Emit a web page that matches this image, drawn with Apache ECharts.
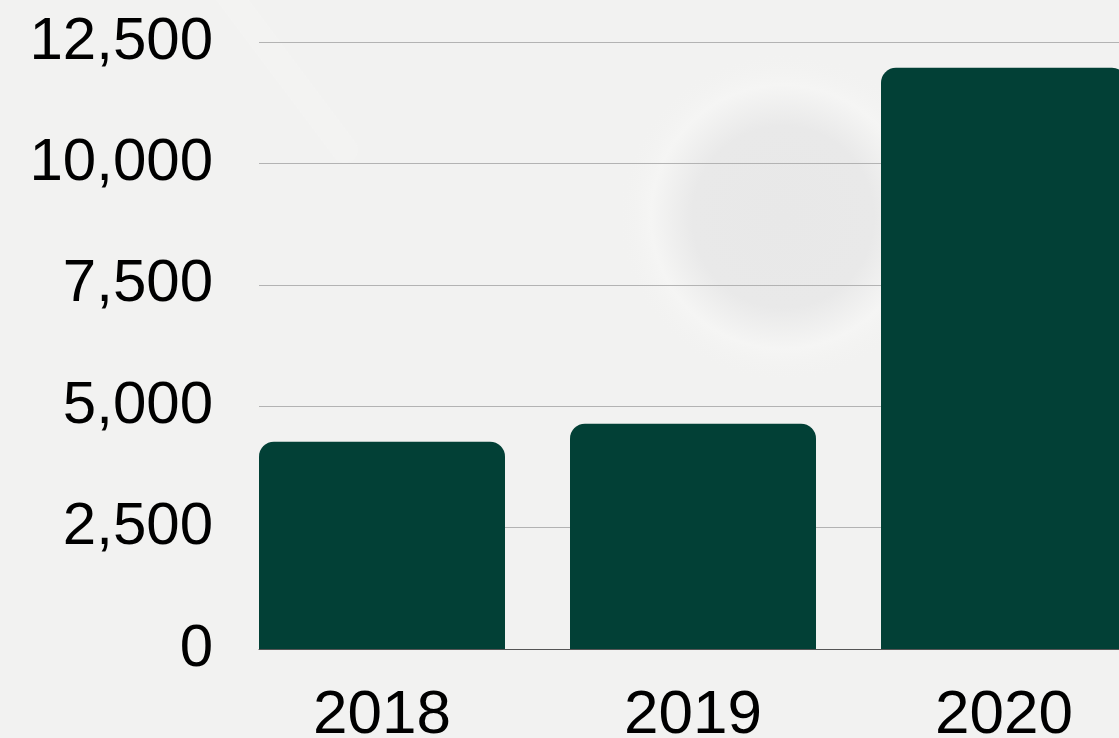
<!DOCTYPE html>
<html>
<head>
<meta charset="utf-8">
<style>
html,body{margin:0;padding:0;background:#f2f2f1;}
#chart{width:1119px;height:738px;}
</style>
<script src="https://cdn.jsdelivr.net/npm/echarts@6/dist/echarts.min.js"></script>
</head>
<body>
<div id="chart"></div>
<script>
const categories = ['2018', '2019', '2020'];
const values = [4270, 4640, 11970];
const yTicks = [0, 2500, 5000, 7500, 10000, 12500];

const chart = echarts.init(document.getElementById('chart'));
const fontFamily = '"Liberation Sans", Arial, Helvetica, sans-serif';
const yMin = yTicks[0], yMax = yTicks[yTicks.length - 1], yStep = yTicks[1] - yTicks[0];

chart.setOption({
  backgroundColor: '#f2f2f1',
  animation: false,
  graphic: {
    elements: [
      {
        type: 'circle', silent: true, z: -100,
        shape: { cx: 783, cy: 217, r: 165 },
        style: {
          fill: new echarts.graphic.RadialGradient(0.5, 0.5, 0.5, [
            { offset: 0, color: '#e8e8e8' },
            { offset: 0.55, color: '#e9e9e9' },
            { offset: 0.8, color: '#f5f5f4' },
            { offset: 1, color: 'rgba(242,242,241,0)' }
          ])
        }
      },
      {
        type: 'line', silent: true, z: -100,
        shape: { x1: 225, y1: -10, x2: 345, y2: 150 },
        style: { stroke: 'rgba(255,255,255,0.12)', lineWidth: 26, lineCap: 'round', shadowBlur: 30, shadowColor: 'rgba(255,255,255,0.7)' }
      }
    ]
  },
  grid: [
    { left: 259, right: 0, top: 42, bottom: 89, containLabel: false, outerBoundsMode: 'none' },
    { left: 226.5, width: 933, top: 42, bottom: 89, containLabel: false, outerBoundsMode: 'none' }
  ],
  xAxis: [
    {
      gridIndex: 0, type: 'value', min: 0, max: 1,
      axisLine: { show: true, onZero: false, lineStyle: { color: '#555', width: 1 } },
      axisTick: { show: false }, axisLabel: { show: false }, splitLine: { show: false }
    },
    {
      gridIndex: 1, type: 'category', data: categories,
      axisLine: { show: false }, axisTick: { show: false },
      axisLabel: { color: '#000', fontSize: 62, fontFamily: fontFamily, margin: 36 }
    }
  ],
  yAxis: [
    {
      gridIndex: 0, type: 'value', min: yMin, max: yMax, interval: yStep,
      axisLine: { show: false }, axisTick: { show: false },
      axisLabel: {
        color: '#000', fontSize: 60, fontFamily: fontFamily, margin: 46,
        formatter: v => v.toLocaleString('en-US')
      },
      splitLine: { show: true, lineStyle: { color: '#b3b3b3', width: 1 } }
    },
    {
      gridIndex: 1, type: 'value', min: yMin, max: yMax, interval: yStep,
      axisLine: { show: false }, axisTick: { show: false },
      axisLabel: { show: false }, splitLine: { show: false }
    }
  ],
  series: [
    {
      type: 'bar', xAxisIndex: 1, yAxisIndex: 1,
      data: values, barWidth: 246,
      itemStyle: { color: '#024036', borderRadius: [15, 15, 0, 0] }
    }
  ]
});
</script>
</body>
</html>
